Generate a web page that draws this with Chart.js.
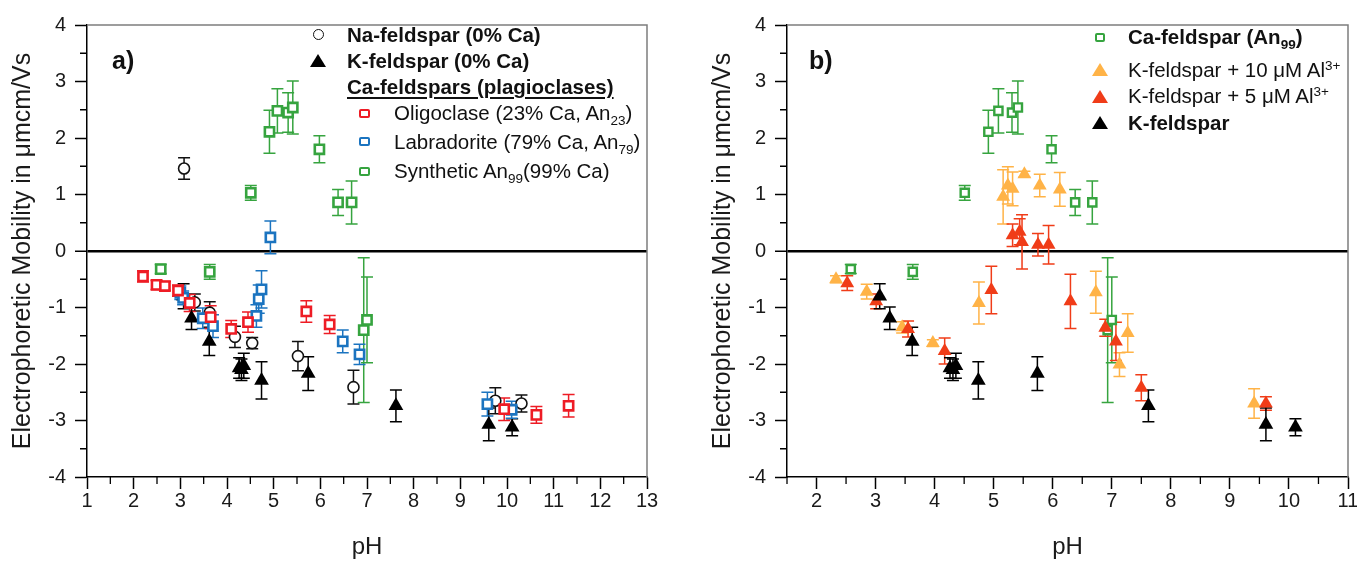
<!DOCTYPE html>
<html>
<head>
<meta charset="utf-8">
<script src="https://cdn.jsdelivr.net/npm/chart.js@4.4.1/dist/chart.umd.min.js"></script>
<style>
  html, body { margin: 0; padding: 0; background: #fff; overflow: hidden; }
  #wrap { position: relative; width: 1357px; height: 562px; overflow: hidden;
          font-family: "Liberation Sans", Arial, sans-serif; color: #111; }
  .panel { position: absolute; top: 0; height: 562px; }
  #boxA { left: 0; width: 690px; }
  #boxB { left: 690px; width: 680px; }
  .lg { position: absolute; font-size: 20.5px; line-height: 22px; height: 22px; white-space: nowrap; z-index: 2; }
  .lg.b { font-weight: bold; }
  .lg sub, .lg sup { font-size: 0.66em; line-height: 0; }
  .lg sub { vertical-align: -0.35em; }
  .lg sup { vertical-align: 0.55em; }
  .u { text-decoration: underline; text-underline-offset: 3px; }
  .mk { position: absolute; z-index: 2; box-sizing: border-box; }
  .circ { width: 11px; height: 11px; border: 1.6px solid #111; border-radius: 50%; background: #fff; }
  .sq { width: 11px; height: 9px; border: 2.6px solid; border-radius: 2px; background: #fff; }
  .tri { width: 0; height: 0; border-left: 8px solid transparent; border-right: 8px solid transparent; border-bottom: 13px solid #000; }
  .tag { position: absolute; font-weight: bold; font-size: 25px; line-height: 28px; z-index: 2; }
</style>
</head>
<body>
<div id="wrap">
  <div class="panel" id="boxA"><canvas id="chartA"></canvas></div>
  <div class="panel" id="boxB"><canvas id="chartB"></canvas></div>

  <div class="tag" style="left:112px; top:46px;">a)</div>
  <div class="tag" style="left:809px; top:46px;">b)</div>

  <!-- legend a -->
  <div class="mk circ" style="left:313px; top:29px;"></div>
  <div class="lg b" style="left:347px; top:24px;">Na-feldspar (0% Ca)</div>
  <div class="mk tri" style="left:310px; top:54px;"></div>
  <div class="lg b" style="left:347px; top:50px;">K-feldspar (0% Ca)</div>
  <div class="lg b u" style="left:347px; top:76px;">Ca-feldspars (plagioclases)</div>
  <div class="mk sq" style="left:359px; top:109px; border-color:#ee1c25;"></div>
  <div class="lg" style="left:394px; top:102px;">Oligoclase (23% Ca, An<sub>23</sub>)</div>
  <div class="mk sq" style="left:359px; top:137px; border-color:#1b74c0;"></div>
  <div class="lg" style="left:394px; top:131px;">Labradorite (79% Ca, An<sub>79</sub>)</div>
  <div class="mk sq" style="left:359px; top:167px; border-color:#36a43f;"></div>
  <div class="lg" style="left:394px; top:160px;">Synthetic An<sub>99</sub>(99% Ca)</div>

  <!-- legend b -->
  <div class="mk sq" style="left:1095px; top:33px; border-color:#36a43f; width:10px; height:9px;"></div>
  <div class="lg b" style="left:1128px; top:26px;">Ca-feldspar (An<sub>99</sub>)</div>
  <div class="mk tri" style="left:1092px; top:63px; border-bottom-color:#ffb347;"></div>
  <div class="lg" style="left:1128px; top:59px;">K-feldspar + 10 μM Al<sup>3+</sup></div>
  <div class="mk tri" style="left:1092px; top:90px; border-bottom-color:#f03c18;"></div>
  <div class="lg" style="left:1128px; top:85px;">K-feldspar + 5 μM Al<sup>3+</sup></div>
  <div class="mk tri" style="left:1092px; top:116px;"></div>
  <div class="lg b" style="left:1128px; top:112px;">K-feldspar</div>
</div>

<script>
// tick values
const yTicks = [-4, -3, -2, -1, 0, 1, 2, 3, 4];
const xTicksA = [1, 2, 3, 4, 5, 6, 7, 8, 9, 10, 11, 12, 13];
const xTicksB = [2, 3, 4, 5, 6, 7, 8, 9, 10, 11];

// Na-feldspar (0% Ca)
const naPH  = [3.08, 3.31, 3.63, 4.17, 4.54, 5.52, 6.71, 9.75, 10.31];
const naMob = [1.46, -0.91, -1.09, -1.52, -1.63, -1.86, -2.41, -2.65, -2.70];
const naErr = [0.19, 0.15, 0.19, 0.19, 0.10, 0.26, 0.30, 0.23, 0.15];

// K-feldspar (0% Ca)
const kPH  = [3.07, 3.24, 3.62, 4.26, 4.31, 4.36, 4.74, 5.74, 7.62, 9.61, 10.11];
const kMob = [-0.80, -1.19, -1.60, -2.07, -2.10, -2.03, -2.29, -2.17, -2.74, -3.07, -3.12];
const kErr = [0.22, 0.20, 0.25, 0.18, 0.19, 0.22, 0.33, 0.30, 0.28, 0.29, 0.15];

// Oligoclase (An23)
const oligPH  = [2.20, 2.49, 2.67, 2.95, 3.20, 3.65, 4.09, 4.45, 5.70, 6.20, 9.94, 10.63, 11.32];
const oligMob = [-0.45, -0.60, -0.62, -0.70, -0.92, -1.17, -1.38, -1.26, -1.07, -1.30, -2.80, -2.90, -2.74];
const oligErr = [0.10, 0.08, 0.08, 0.10, 0.15, 0.20, 0.15, 0.18, 0.19, 0.16, 0.20, 0.15, 0.20];

// Labradorite (An79)
const labPH  = [3.00, 3.06, 3.48, 3.70, 4.63, 4.68, 4.74, 4.93, 6.48, 6.84, 9.58, 10.10];
const labMob = [-0.74, -0.83, -1.19, -1.33, -1.15, -0.85, -0.68, 0.24, -1.60, -1.83, -2.71, -2.81];
const labErr = [0.12, 0.12, 0.18, 0.20, 0.20, 0.25, 0.33, 0.29, 0.20, 0.18, 0.21, 0.15];

// Synthetic An99 / Ca-feldspar
const an99PH  = [2.58, 3.63, 4.51, 4.91, 5.08, 5.31, 5.41, 5.98, 6.38, 6.67, 6.93, 7.00];
const an99Mob = [-0.32, -0.37, 1.03, 2.11, 2.48, 2.45, 2.54, 1.80, 0.86, 0.86, -1.40, -1.22];
const an99Err = [0.08, 0.13, 0.13, 0.38, 0.39, 0.35, 0.47, 0.24, 0.23, 0.38, 1.28, 0.76];

// K-feldspar + 10 uM Al3+
const al10PH  = [2.33, 2.85, 3.45, 3.97, 4.75, 5.16, 5.24, 5.32, 5.52, 5.78, 6.12, 6.73, 7.13, 7.27, 9.41];
const al10Mob = [-0.50, -0.72, -1.35, -1.63, -0.92, 0.96, 1.16, 1.10, 1.36, 1.16, 1.09, -0.73, -2.01, -1.45, -2.70];
const al10Err = [0.06, 0.13, 0.10, 0.06, 0.37, 0.48, 0.33, 0.30, 0.05, 0.20, 0.30, 0.37, 0.21, 0.34, 0.26];

// K-feldspar + 5 uM Al3+
const al5PH  = [2.52, 3.01, 3.55, 4.17, 4.96, 5.32, 5.44, 5.48, 5.75, 5.93, 6.30, 6.89, 7.07, 7.50, 9.61];
const al5Mob = [-0.57, -0.89, -1.38, -1.77, -0.69, 0.28, 0.34, 0.16, 0.11, 0.11, -0.89, -1.36, -1.60, -2.42, -2.70];
const al5Err = [0.13, 0.13, 0.14, 0.23, 0.42, 0.20, 0.23, 0.48, 0.20, 0.34, 0.48, 0.15, 0.34, 0.23, 0.12];

const FONT = "'Liberation Sans', Arial, sans-serif";

function pts(xs, ys) {
    return xs.map((x, i) => ({ x: x, y: ys[i] }));
}

// vertical error bars with caps, drawn under the markers
const errorBars = {
    id: "errorBars",
    beforeDatasetsDraw(chart) {
        const { ctx } = chart;
        const xs = chart.scales.x, ys = chart.scales.y;
        ctx.save();
        ctx.lineWidth = 1.5;
        for (let i = chart.data.datasets.length - 1; i >= 0; i--) {
            const ds = chart.data.datasets[i];
            if (!ds.errors) continue;
            ctx.strokeStyle = ds.borderColor;
            ds.data.forEach((p, j) => {
                const px = xs.getPixelForValue(p.x);
                const top = ys.getPixelForValue(p.y + ds.errors[j]);
                const bot = ys.getPixelForValue(p.y - ds.errors[j]);
                ctx.beginPath();
                ctx.moveTo(px, top);
                ctx.lineTo(px, bot);
                ctx.moveTo(px - 6, top);
                ctx.lineTo(px + 6, top);
                ctx.moveTo(px - 6, bot);
                ctx.lineTo(px + 6, bot);
                ctx.stroke();
            });
        }
        ctx.restore();
    },
};

// grey top/right frame and the short half-step ticks
const frame = {
    id: "frame",
    afterDraw(chart) {
        const { ctx, chartArea: a } = chart;
        const xs = chart.scales.x, ys = chart.scales.y;
        ctx.save();
        ctx.strokeStyle = "#7d7d7d";
        ctx.lineWidth = 1.5;
        ctx.beginPath();
        ctx.moveTo(a.left, a.top);
        ctx.lineTo(a.right, a.top);
        ctx.lineTo(a.right, a.bottom);
        ctx.stroke();

        ctx.strokeStyle = "#000";
        ctx.lineWidth = 1.3;
        ctx.beginPath();
        for (let v = Math.ceil(xs.min * 2) / 2; v <= xs.max; v += 0.5) {
            if (v % 1 === 0) continue;
            const px = xs.getPixelForValue(v);
            ctx.moveTo(px, a.bottom);
            ctx.lineTo(px, a.bottom + 7);
        }
        for (let v = ys.min + 0.5; v < ys.max; v += 1) {
            const py = ys.getPixelForValue(v);
            ctx.moveTo(a.left, py);
            ctx.lineTo(a.left - 7, py);
        }
        ctx.stroke();
        ctx.restore();
    },
};

function series(label, xs, ys, errs, style) {
    return Object.assign({
        label: label,
        data: pts(xs, ys),
        errors: errs,
        backgroundColor: "#fff",
    }, style);
}

function hollowSquare(color) {
    return { pointStyle: "rect", pointRadius: 6.5, borderWidth: 2.6, borderColor: color, backgroundColor: "#fff" };
}

function triangle(color, r) {
    return { pointStyle: "triangle", pointRadius: r, borderWidth: 0, borderColor: color, backgroundColor: color };
}

function makeOptions(xMin, xMax, xTicks, yAxisWidth, yTitlePad, rightPad) {
    return {
        animation: false,
        responsive: false,
        events: [],
        layout: { padding: { top: 25, right: rightPad, left: 0, bottom: 0 } },
        plugins: { legend: { display: false }, tooltip: { enabled: false } },
        scales: {
            x: {
                type: "linear",
                min: xMin,
                max: xMax,
                afterBuildTicks: (s) => { s.ticks = xTicks.map((v) => ({ value: v })); },
                afterFit: (s) => { s.height = 85; },
                ticks: { font: { family: FONT, size: 20 }, color: "#1a1a1a", padding: 0, maxRotation: 0 },
                grid: { drawOnChartArea: false, tickLength: 12, tickColor: "#000", tickWidth: 1.5 },
                border: { color: "#000", width: 1.5 },
                title: {
                    display: true,
                    text: "pH",
                    font: { family: FONT, size: 24 },
                    color: "#1a1a1a",
                    padding: { top: 0, bottom: 0 },
                },
            },
            y: {
                type: "linear",
                min: -4,
                max: 4,
                afterBuildTicks: (s) => { s.ticks = yTicks.map((v) => ({ value: v })); },
                afterFit: (s) => { s.width = yAxisWidth; },
                ticks: { font: { family: FONT, size: 20 }, color: "#1a1a1a", padding: 9 },
                grid: {
                    color: (c) => (c.tick && c.tick.value === 0 ? "#000" : "rgba(0,0,0,0)"),
                    lineWidth: (c) => (c.tick && c.tick.value === 0 ? 2.5 : 1),
                    tickLength: 12,
                    tickColor: "#000",
                    tickWidth: 1.5,
                },
                border: { color: "#000", width: 1.5 },
                title: {
                    display: true,
                    text: "Electrophoretic Mobility in μmcm/Vs",
                    font: { family: FONT, size: 25 },
                    color: "#1a1a1a",
                    padding: { top: yTitlePad, bottom: 0 },
                },
            },
        },
    };
}

const RED = "#ee1c25", BLUE = "#1b74c0", GREEN = "#36a43f";
const ORANGE = "#ffb347", REDTRI = "#f03c18";

const canvasA = document.getElementById("chartA");
canvasA.width = 690;
canvasA.height = 562;
new Chart(canvasA, {
    type: "scatter",
    data: {
        datasets: [
            Object.assign(series("Oligoclase", oligPH, oligMob, oligErr, hollowSquare(RED)), { order: 0 }),
            Object.assign(series("Labradorite", labPH, labMob, labErr, hollowSquare(BLUE)), { order: 1 }),
            Object.assign(series("Na-feldspar", naPH, naMob, naErr,
                { pointStyle: "circle", pointRadius: 5.5, borderWidth: 1.6, borderColor: "#111" }), { order: 2 }),
            Object.assign(series("K-feldspar", kPH, kMob, kErr, triangle("#000", 8.5)), { order: 3 }),
            Object.assign(series("Synthetic An99", an99PH, an99Mob, an99Err, hollowSquare(GREEN)), { order: 4 }),
        ],
    },
    options: makeOptions(1, 13, xTicksA, 87, 8, 43),
    plugins: [errorBars, frame],
});

const canvasB = document.getElementById("chartB");
canvasB.width = 680;
canvasB.height = 562;
new Chart(canvasB, {
    type: "scatter",
    data: {
        datasets: [
            Object.assign(series("K-feldspar", kPH, kMob, kErr, triangle("#000", 8.5)), { order: 0 }),
            Object.assign(series("K-feldspar + 5 μM Al3+", al5PH, al5Mob, al5Err, triangle(REDTRI, 8)), { order: 1 }),
            Object.assign(series("K-feldspar + 10 μM Al3+", al10PH, al10Mob, al10Err, triangle(ORANGE, 8)), { order: 2 }),
            Object.assign(series("Ca-feldspar (An99)", an99PH, an99Mob, an99Err,
                { pointStyle: "rect", pointRadius: 5.8, borderWidth: 2.4, borderColor: GREEN }), { order: 3 }),
        ],
    },
    options: makeOptions(1.5, 11, xTicksB, 97, 18, 22),
    plugins: [errorBars, frame],
});
</script>
</body>
</html>
